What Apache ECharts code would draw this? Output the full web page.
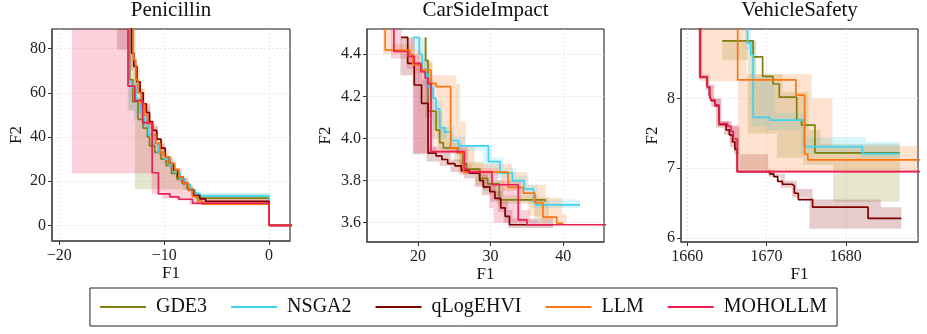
<!DOCTYPE html>
<html lang="en">
<head>
<meta charset="UTF-8">
<title>Pareto fronts</title>
<script src="https://cdn.jsdelivr.net/npm/echarts@6/dist/echarts.min.js"></script>
<style>
  html, body { margin: 0; padding: 0; background: #fff; }
  #chart { width: 927px; height: 334px; }
</style>
</head>
<body>
<div id="chart"></div>
<script>
// ---- data (step points: [x where the drop happens, y after the drop]) ----
var methods = ['GDE3', 'NSGA2', 'qLogEHVI', 'LLM', 'MOHOLLM'];
var panelTitles = ['Penicillin', 'CarSideImpact', 'VehicleSafety'];

var penTicksX = [-20, -10, 0];
var penTicksY = [0, 20, 40, 60, 80];
var carTicksX = [20, 30, 40];
var carTicksY = [3.6, 3.8, 4.0, 4.2, 4.4];
var vehTicksX = [1660, 1670, 1680];
var vehTicksY = [6, 7, 8];

// Penicillin
var penGde3 = [[-13.3,95],[-13.3,66],[-13.0,56],[-12.5,48],[-12.0,44],[-11.6,40],[-11.4,36],[-10.9,33],[-10.3,30],[-9.8,27],[-9.3,23.5],[-8.8,21],[-8.3,19],[-7.8,16.5],[-7.3,14.5],[-6.9,12.3],[0,0],[2.5,0]];
var penNsga2 = [[-13.4,95],[-13.4,65],[-13.1,62.5],[-12.7,57],[-12.3,51],[-11.9,46],[-11.5,41],[-11.1,37],[-10.6,33],[-10.0,30],[-9.5,27],[-9.0,24],[-8.5,21],[-8.0,18.5],[-7.5,16],[-7.0,14.5],[-6.6,13.2],[0,0],[2.5,0]];
var penQlog = [[-13.1,95],[-13.1,78],[-12.9,72],[-12.6,65],[-12.3,60],[-12.0,55],[-11.7,51],[-11.4,47],[-11.1,43],[-10.7,39],[-10.3,35],[-9.9,31],[-9.5,28],[-9.1,25],[-8.7,22],[-8.2,19],[-7.7,16],[-7.2,13.5],[-6.6,12],[-6.05,10.8],[0,0],[2.5,0]];
var penLlm = [[-12.95,95],[-12.95,75],[-12.7,66],[-12.5,60],[-12.2,55],[-11.9,50],[-11.6,46],[-11.2,41],[-10.8,37],[-10.4,33],[-10.0,31],[-9.5,28],[-9.0,25],[-8.6,22],[-8.2,19],[-7.7,16],[-7.3,13],[-6.8,11],[-6.4,9.6],[0,0],[2.5,0]];
var penMoho = [[-13.45,95],[-13.45,63],[-12.8,56.5],[-12.05,46.5],[-11.15,23.8],[-10.55,14.2],[-9.45,12.9],[-8.6,11.8],[-7.3,10.0],[0,0],[2.5,0]];

var penGde3Hi = [[-13.1,95],[-13.1,70],[-12.6,58],[-12.0,48],[-11.4,40],[-10.8,34],[-10.1,30],[-9.4,26],[-8.7,22],[-8.0,18],[-7.3,15],[-6.7,14.3],[0,14.3]];
var penGde3Lo = [[-13.4,95],[-13.4,52],[-12.8,16.3],[-7.0,12.0],[0,11.8]];
var penNsga2Hi = [[-13.2,95],[-13.2,66],[-12.8,60],[-12.2,52],[-11.6,45],[-11.0,38],[-10.4,33],[-9.8,29],[-9.1,25],[-8.4,21],[-7.7,17],[-7.0,14.8],[0,14.8]];
var penNsga2Lo = [[-13.5,95],[-13.5,52],[-12.9,48],[-12.3,44],[-11.8,40],[-11.3,36],[-10.7,32],[-10.1,28],[-9.5,25],[-8.9,22],[-8.3,18.5],[-7.7,15.5],[-7.0,12.8],[0,12.8]];
var penQlogHi = [[-12.9,95],[-12.9,72],[-12.5,62],[-12.0,55],[-11.3,45],[-10.6,37],[-9.9,31],[-9.2,26],[-8.5,21],[-7.8,16.5],[-7.1,13.5],[-6.2,12],[0,12]];
var penQlogLo = [[-14.5,95],[-14.5,79.6],[-13.2,70],[-12.8,60],[-12.3,52],[-11.6,44],[-11.0,38],[-10.4,32],[-9.8,28],[-9.2,24],[-8.6,20],[-8.0,16.5],[-7.4,13],[-6.8,10.3],[0,10.3]];
var penLlmHi = [[-12.7,95],[-12.7,72],[-12.3,62],[-11.8,53],[-11.3,46],[-10.7,39],[-10.1,34],[-9.5,30],[-8.9,26],[-8.3,22],[-7.7,18],[-7.1,14.5],[-6.5,12.8],[0,12.8]];
var penLlmLo = [[-13.2,95],[-13.2,72],[-12.9,63],[-12.6,56],[-12.3,50],[-11.9,45],[-11.5,40],[-11.0,35],[-10.5,31],[-10.0,28],[-9.4,24],[-8.8,20],[-8.2,16],[-7.5,12.5],[-6.9,9.2],[0,9.2]];
var penMohoHi = [[-13.2,95],[-13.2,62],[-12.6,57],[-12.0,50],[-11.4,42],[-10.8,36],[-10.1,30],[-9.4,25],[-8.7,21],[-8.0,17],[-7.3,14],[-6.6,11],[0,11]];
var penMohoLo = [[-18.8,95],[-18.8,23.5],[-11.2,14.2],[-10.2,12.2],[-8.8,11.2],[-7.6,9.3],[0,9.3]];

// CarSideImpact
var carGde3 = [[21.06,4.48],[21.06,4.37],[21.4,4.13],[22.5,4.04],[23.0,3.98],[23.5,3.955],[25.5,3.93],[26.2,3.88],[26.7,3.854],[28.5,3.81],[29.6,3.784],[31.2,3.708],[37.5,3.70]];
var carNsga2 = [[19.3,4.48],[20.2,4.40],[20.6,4.33],[21.1,4.30],[21.5,4.24],[22.1,4.19],[22.5,4.14],[23.0,4.05],[23.7,4.03],[24.6,3.99],[25.6,3.965],[29.7,3.89],[31.3,3.835],[33.0,3.80],[34.6,3.76],[35.9,3.70],[36.2,3.684],[42.3,3.684]];
var carQlog = [[17.7,4.48],[18.6,4.357],[19.5,4.254],[20.5,4.167],[21.4,3.93],[22.5,3.917],[23.3,3.90],[24.1,3.88],[25.1,3.87],[26.0,3.847],[27.1,3.835],[28.5,3.80],[29.0,3.77],[29.9,3.747],[30.6,3.715],[31.4,3.67],[32.0,3.63],[32.6,3.59],[38.6,3.59]];
var carLlm = [[15.5,4.6],[15.5,4.42],[18.9,4.40],[19.3,4.35],[20.5,4.325],[21.8,4.262],[22.5,4.246],[24.5,3.955],[25.4,3.93],[26.3,3.84],[32.4,3.768],[34.5,3.74],[36.1,3.695],[37.2,3.626],[39.1,3.597],[40.0,3.597]];
var carMoho = [[16.7,4.6],[16.7,4.413],[18.6,4.39],[19.5,4.357],[20.4,4.317],[21.0,4.286],[21.4,4.26],[21.8,3.937],[26.4,3.854],[26.8,3.84],[30.2,3.78],[33.8,3.613],[35.0,3.59],[46,3.59]];

var carGde3Hi = [[21.3,4.48],[21.3,4.36],[22.0,4.13],[23.3,4.05],[24.0,3.98],[26.0,3.95],[27.0,3.89],[29.0,3.85],[30.3,3.80],[31.8,3.73],[36.4,3.72],[38.0,3.66]];
var carGde3Lo = [[20.8,4.48],[20.8,4.30],[21.0,4.10],[22.0,4.0],[22.8,3.94],[25.0,3.89],[25.8,3.84],[28.0,3.78],[29.0,3.75],[30.8,3.69],[36.0,3.62],[38.0,3.62]];
var carNsga2Hi = [[19.8,4.48],[20.8,4.38],[21.6,4.28],[22.4,4.18],[23.4,4.06],[25.0,4.01],[26.5,3.97],[30.2,3.91],[31.8,3.86],[33.5,3.82],[35.2,3.78],[36.5,3.71],[42.3,3.71]];
var carNsga2Lo = [[19.0,4.48],[19.0,4.42],[19.9,4.32],[20.7,4.25],[21.3,4.17],[22.0,4.06],[22.8,4.00],[24.0,3.96],[25.0,3.94],[29.0,3.86],[30.8,3.81],[32.5,3.77],[34.0,3.73],[35.6,3.67],[42.3,3.67]];
var carQlogHi = [[19.6,4.48],[19.6,4.36],[20.6,4.28],[21.5,3.96],[22.6,3.94],[24.5,3.90],[26.5,3.86],[28.6,3.83],[29.6,3.79],[30.8,3.75],[31.6,3.70],[32.4,3.66],[33.0,3.62],[38.6,3.62]];
var carQlogLo = [[17.6,4.48],[17.6,4.30],[19.3,3.925],[21.2,3.89],[23.0,3.87],[24.5,3.84],[26.3,3.81],[27.8,3.77],[28.8,3.73],[30.0,3.70],[31.0,3.65],[31.8,3.60],[32.4,3.575],[38.6,3.575]];
var carLlmHi = [[16.5,4.6],[16.5,4.45],[19.3,4.42],[20.6,4.37],[22.0,4.30],[25.2,4.26],[25.8,4.08],[26.6,3.96],[27.8,3.88],[33.0,3.84],[35.0,3.78],[37.6,3.72],[39.8,3.64],[40.5,3.61]];
var carLlmLo = [[15.2,4.6],[15.2,4.40],[18.4,4.37],[19.5,4.31],[21.2,4.25],[22.5,3.96],[24.0,3.93],[25.6,3.83],[31.5,3.75],[34.0,3.70],[35.2,3.63],[37.0,3.60],[40.5,3.585]];
var carMohoHi = [[17.8,4.6],[17.8,4.40],[20.2,4.33],[21.0,4.30],[22.0,4.26],[22.3,3.96],[26.8,3.88],[27.4,3.86],[31.0,3.80],[34.2,3.66],[35.4,3.61],[36.5,3.60]];
var carMohoLo = [[16.3,4.6],[16.3,4.38],[18.4,4.33],[19.4,4.27],[19.4,3.93],[25.8,3.83],[28.8,3.76],[29.8,3.67],[30.4,3.60],[36.5,3.58]];

// VehicleSafety
var vehGde3 = [[1664.4,8.83],[1668.3,8.60],[1669.5,8.32],[1670.8,8.21],[1671.6,8.02],[1673.8,7.69],[1674.4,7.62],[1676.1,7.22],[1686.8,7.22]];
var vehNsga2 = [[1667.6,9.2],[1667.6,8.80],[1668.0,8.63],[1668.3,7.73],[1670.4,7.69],[1674.7,7.31],[1682.1,7.21],[1686.8,7.21]];
var vehQlog = [[1661.6,9.2],[1661.6,8.31],[1662.5,8.17],[1662.8,8.05],[1663.0,7.97],[1663.5,7.90],[1664.0,7.63],[1664.9,7.55],[1665.3,7.48],[1665.7,7.38],[1666.0,7.27],[1666.3,6.95],[1670.4,6.92],[1670.9,6.88],[1671.4,6.81],[1672.0,6.77],[1673.2,6.75],[1673.5,6.64],[1674.0,6.55],[1675.8,6.44],[1682.8,6.28],[1687.0,6.28]];
var vehLlm = [[1666.35,9.2],[1666.35,8.27],[1673.7,8.05],[1674.8,7.20],[1675.2,7.12],[1690,7.12]];
var vehMoho = [[1661.6,9.2],[1661.6,8.31],[1662.5,8.17],[1662.8,8.05],[1663.0,7.98],[1663.5,7.91],[1664.0,7.64],[1665.1,7.60],[1665.5,7.53],[1665.8,7.42],[1666.3,6.95],[1690,6.95]];

var vehGde3Hi = [[1664.4,8.83],[1668.7,8.35],[1672.0,8.1],[1675.3,7.55],[1676.8,7.35],[1686.8,7.35]];
var vehGde3Lo = [[1664.4,8.83],[1664.4,8.55],[1667.6,7.5],[1671.3,7.15],[1674.6,7.05],[1678.4,6.52],[1686.8,6.52]];
var vehNsga2Hi = [[1668.0,9.2],[1668.0,8.85],[1668.6,8.3],[1671.0,7.8],[1675.0,7.45],[1682.5,7.38],[1686.8,7.38]];
var vehNsga2Lo = [[1667.3,9.2],[1667.3,8.7],[1668.0,7.6],[1670.0,7.55],[1674.3,7.2],[1681.8,7.15],[1686.8,7.15]];
var vehQlogHi = [[1661.9,9.2],[1661.9,8.35],[1662.8,8.2],[1663.4,8.0],[1664.3,7.68],[1665.6,7.6],[1666.6,6.98],[1671.0,6.92],[1672.3,6.82],[1673.8,6.7],[1675.8,6.55],[1684.4,6.44],[1687.0,6.44]];
var vehQlogLo = [[1661.4,9.2],[1661.4,8.28],[1662.3,8.12],[1662.6,8.0],[1663.0,7.88],[1663.6,7.58],[1664.6,7.48],[1665.4,7.3],[1665.9,7.2],[1670.2,6.88],[1671.8,6.72],[1673.2,6.58],[1675.4,6.13],[1687.0,6.13]];
var vehLlmHi = [[1667.5,9.2],[1667.5,8.35],[1675.7,8.0],[1678.3,7.32],[1690,7.32]];
var vehLlmLo = [[1661.6,9.2],[1661.6,8.25],[1666.4,6.95],[1690,6.95]];
var vehMohoHi = [[1661.8,9.2],[1661.8,8.33],[1662.7,8.19],[1663.2,8.0],[1664.2,7.68],[1665.3,7.62],[1666.5,6.97],[1690,6.97]];
var vehMohoLo = [[1661.5,9.2],[1661.5,8.29],[1662.4,8.14],[1662.7,8.02],[1663.4,7.87],[1663.8,7.6],[1665.3,7.36],[1666.1,6.93],[1690,6.93]];

// ---- chart ----
var colors = ['#808010', '#3fd3f2', '#800000', '#fb7512', '#ec1f52'];
var serif = 'Liberation Serif';

var panels = [
  { lines: [penGde3, penNsga2, penQlog, penLlm, penMoho],
    bands: [[penGde3Hi, penGde3Lo], [penNsga2Hi, penNsga2Lo], [penQlogHi, penQlogLo], [penLlmHi, penLlmLo], [penMohoHi, penMohoLo]],
    x: [-20.7, 2.0], y: [-7.1, 88.9], tx: penTicksX, ty: penTicksY, dec: 0,
    grid: { left: 52, top: 29, width: 238, height: 212 }, yGap: 27 },
  { lines: [carGde3, carNsga2, carQlog, carLlm, carMoho],
    bands: [[carGde3Hi, carGde3Lo], [carNsga2Hi, carNsga2Lo], [carQlogHi, carQlogLo], [carLlmHi, carLlmLo], [carMohoHi, carMohoLo]],
    x: [13.0, 45.6], y: [3.508, 4.52], tx: carTicksX, ty: carTicksY, dec: 1,
    grid: { left: 367, top: 29, width: 237, height: 213 }, yGap: 33 },
  { lines: [vehGde3, vehNsga2, vehQlog, vehLlm, vehMoho],
    bands: [[vehGde3Hi, vehGde3Lo], [vehNsga2Hi, vehNsga2Lo], [vehQlogHi, vehQlogLo], [vehLlmHi, vehLlmLo], [vehMohoHi, vehMohoLo]],
    x: [1659.2, 1689.1], y: [5.94, 9.0], tx: vehTicksX, ty: vehTicksY, dec: 0,
    grid: { left: 681, top: 29, width: 237, height: 213 }, yGap: 20 }
];

function fmt(v, dec) {
  return v.toFixed(dec).replace('-', '\u2212');
}

// expand step points into polygon corners
function stepPts(arr) {
  var out = [arr[0]];
  for (var i = 1; i < arr.length; i++) {
    out.push([arr[i][0], arr[i - 1][1]]);
    out.push(arr[i]);
  }
  return out;
}

function bandSeries(hi, lo, color, idx) {
  return {
    type: 'custom',
    name: 'band',
    xAxisIndex: idx,
    yAxisIndex: idx,
    silent: true,
    z: 1,
    data: [hi[0]],
    renderItem: function(params, api) {
      var pts = stepPts(hi).concat(stepPts(lo).reverse()).map(function(p) {
        return api.coord(p);
      });
      var cs = params.coordSys;
      return {
        type: 'polygon',
        shape: { points: pts },
        clipPath: { type: 'rect', shape: { x: cs.x, y: cs.y, width: cs.width, height: cs.height } },
        style: { fill: color, opacity: 0.2 }
      };
    }
  };
}

var grids = [], xAxes = [], yAxes = [], titles = [], series = [];

panels.forEach(function(p, i) {
  grids.push({
    left: p.grid.left, top: p.grid.top, width: p.grid.width, height: p.grid.height,
    show: true, borderColor: '#111', borderWidth: 1
  });
  titles.push({
    text: panelTitles[i],
    left: p.grid.left + p.grid.width / 2,
    top: 0,
    padding: 0,
    textAlign: 'center',
    textStyle: { fontFamily: serif, fontSize: 21, fontWeight: 'normal', color: '#111' }
  });
  xAxes.push({
    type: 'value', gridIndex: i, min: p.x[0], max: p.x[1], splitNumber: 3,
    name: 'F1', nameLocation: 'middle', nameGap: 24, nameMoveOverlap: false,
    nameTextStyle: { fontFamily: serif, fontSize: 17, color: '#111' },
    axisLine: { show: true, onZero: false, lineStyle: { color: '#555', width: 1.5 } },
    axisTick: { show: true, length: 4, customValues: p.tx, lineStyle: { color: '#333' } },
    axisLabel: {
      customValues: p.tx, margin: 7, fontFamily: serif, fontSize: 16, color: '#222',
      formatter: function(v) { return fmt(v, 0); }
    },
    splitLine: { show: true, lineStyle: { color: '#e3e3e3', width: 0.8, type: [2, 2] } }
  });
  yAxes.push({
    type: 'value', gridIndex: i, min: p.y[0], max: p.y[1], splitNumber: 5,
    name: 'F2', nameLocation: 'middle', nameGap: p.yGap,
    nameTextStyle: { fontFamily: serif, fontSize: 17, color: '#111' },
    axisLine: { show: true, onZero: false, lineStyle: { color: '#555', width: 1.5 } },
    axisTick: { show: true, length: 4, customValues: p.ty, lineStyle: { color: '#333' } },
    axisLabel: {
      customValues: p.ty, margin: 6, fontFamily: serif, fontSize: 16, color: '#222',
      formatter: (function(dec) { return function(v) { return fmt(v, dec); }; })(p.dec)
    },
    splitLine: { show: true, lineStyle: { color: '#e3e3e3', width: 0.8, type: [2, 2] } }
  });
  p.bands.forEach(function(b, k) {
    series.push(bandSeries(b[0], b[1], colors[k], i));
  });
  p.lines.forEach(function(line, k) {
    series.push({
      type: 'line',
      name: methods[k],
      xAxisIndex: i,
      yAxisIndex: i,
      step: 'end',
      symbol: 'none',
      showSymbol: false,
      z: 3 + k,
      lineStyle: { color: colors[k], width: 1.7 },
      itemStyle: { color: colors[k] },
      data: line
    });
  });
});

var myChart = echarts.init(document.getElementById('chart'), null, { renderer: 'canvas' });
myChart.setOption({
  animation: false,
  title: titles,
  grid: grids,
  xAxis: xAxes,
  yAxis: yAxes,
  legend: {
    data: methods,
    icon: 'rect',
    left: 'center',
    top: 288,
    padding: [8, 10, 8, 10],
    itemGap: 24,
    itemWidth: 46,
    itemHeight: 2,
    borderColor: '#222',
    borderWidth: 1,
    textStyle: { fontFamily: serif, fontSize: 20, color: '#111', lineHeight: 22, padding: [0, 0, 0, 5] }
  },
  series: series
});
</script>
</body>
</html>
